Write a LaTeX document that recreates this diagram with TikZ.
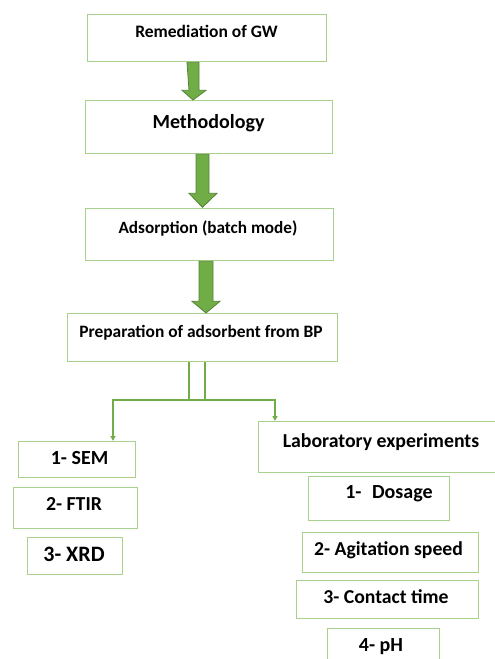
\documentclass[tikz,border=0pt]{standalone}
\usepackage{fontspec}
\setmainfont{Carlito}
\usetikzlibrary{calc,arrows.meta}
\definecolor{boxgreen}{HTML}{A9D18E}
\definecolor{linegreen}{HTML}{70AD47}
\definecolor{arrowedge}{HTML}{548235}
\newcommand{\fsz}[1]{\fontsize{#1}{#1}\selectfont}
\tikzset{
  box/.style={draw=boxgreen, line width=1.3pt, fill=white, inner sep=0pt, anchor=north west},
  txt/.style={anchor=base, inner sep=0pt, font=\bfseries},
  fatarrow/.style={fill=linegreen, draw=arrowedge, line width=0.8pt, line join=miter},
  conn/.style={draw=linegreen, line width=1.3pt},
  tip/.style={-{Triangle[length=5pt,width=5pt]}},
}
\begin{document}
\begin{tikzpicture}[x=1pt,y=-1pt]
\useasboundingbox (0,0) rectangle (495,659);
% main column
\node[box, minimum width=239, minimum height=47] (r) at (87,14) {};
\node[txt] (rt) at (206.5,37) {\fsz{17.5}Remediation of GW};
\node[box, minimum width=247, minimum height=53] (m) at (85,100) {};
\node[txt] (mt) at (208.5,128) {\fsz{20}Methodology};
\node[box, minimum width=248, minimum height=52] (a) at (85,208) {};
\node[txt] (at) at (208,233) {\fsz{17.2}Adsorption (batch mode)};
\node[box, minimum width=270, minimum height=48] (p) at (67,313) {};
\node[txt] (pt) at (201,337) {\fsz{17.4}Preparation of adsorbent from BP};
% fat arrows
\draw[fatarrow] ($(r.south west)+(100,0)$) -- ++(12,0) -- ++(0,28) -- ++(7,0) -- ($(m.north west)+(108,0)$) -- ($(r.south west)+(95,28)$) -- ++(7,0) -- cycle;
\draw[fatarrow] ($(m.south west)+(111,0)$) -- ++(13,0) -- ++(0,39) -- ++(8,0) -- ($(m.south west)+(117.5,53)$) -- ($(m.south west)+(104,39)$) -- ++(7,0) -- cycle;
\draw[fatarrow] ($(a.south west)+(114,0)$) -- ++(14,0) -- ++(0,40) -- ++(7,0) -- ($(p.north west)+(139,0)$) -- ($(a.south west)+(107,40)$) -- ++(7,0) -- cycle;
% left column
\node[box, minimum width=117, minimum height=36] (sem) at (18,441) {};
\node[txt] (semt) at (79.5,464) {\fsz{20}1- SEM};
\node[box, minimum width=124, minimum height=41] (ftir) at (13,487) {};
\node[txt] (ftirt) at (74,510) {\fsz{19.8}2- FTIR};
\node[box, minimum width=95, minimum height=37] (xrd) at (27,537) {};
\node[txt] (xrdt) at (74,561) {\fsz{22}3- XRD};
% right column
\node[box, minimum width=245, minimum height=51] (lab) at (258,421) {};
\node[txt] (labt) at (381,447) {\fsz{19.8}Laboratory experiments};
\node[box, minimum width=141, minimum height=44] (dos) at (308,476) {};
\node[txt] (dost) at (389,498) {\fsz{20}1-\hspace{0.3em} Dosage};
\node[box, minimum width=176, minimum height=40] (agi) at (302,532) {};
\node[txt] (agit) at (388.5,555) {\fsz{19.7}2- Agitation speed};
\node[box, minimum width=182, minimum height=38] (con) at (296,580) {};
\node[txt] (cont) at (386,603) {\fsz{19.7}3- Contact time};
\node[box, minimum width=112, minimum height=40] (ph) at (327,628) {};
\node[txt] (pht) at (381,651) {\fsz{20}4- pH};
% connectors
\coordinate (j1) at (189,400);
\coordinate (j2) at (205,400);
\coordinate (jl) at (113,400);
\coordinate (jr) at (275,400);
\draw[conn] (p.south -| j1) -- (j1);
\draw[conn] (p.south -| j2) -- (j2);
\draw[conn] (j1) -- (j2);
\draw[conn, tip] (j1) -- (jl) -- (jl |- sem.north);
\draw[conn, tip] (j2) -- (jr) -- (jr |- lab.north);
\end{tikzpicture}
\end{document}
